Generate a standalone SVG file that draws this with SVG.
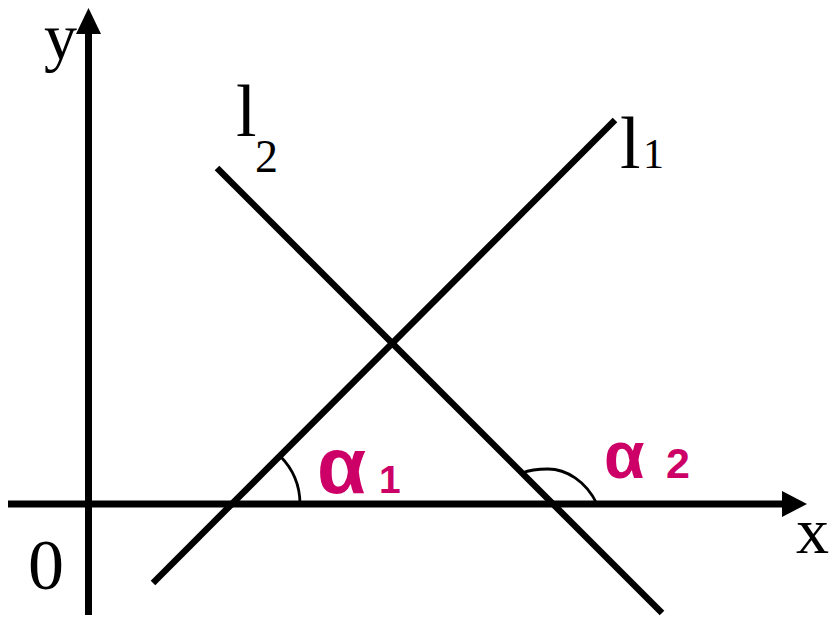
<svg xmlns="http://www.w3.org/2000/svg" width="831" height="618" viewBox="0 0 831 618">
<style>
.ax{stroke:#000;stroke-width:7;fill:none}
.ln{stroke:#000;stroke-width:6.5;fill:none}
.arc{stroke:#000;stroke-width:2.8;fill:none}
.lbl{font-family:"Liberation Serif","Times New Roman",serif;fill:#000}
.al{font-family:"Liberation Sans",Arial,sans-serif;font-weight:bold;fill:#CC0066}
</style>
<rect width="831" height="618" fill="#fff"/>
<g id="connectors">
<line class="ax" x1="8" y1="504" x2="786" y2="504"/>
<polygon points="807,504 782,491 782,517" fill="#000"/>
<line class="ax" x1="88.5" y1="615" x2="88.5" y2="30"/>
<polygon points="88.5,8 76,34 101,34" fill="#000"/>
<line class="ln" x1="153" y1="583" x2="615" y2="120"/>
<line class="ln" x1="217" y1="168" x2="662" y2="613"/>
<path class="arc" d="M300,504 A68,68 0 0 0 280,456"/>
<path class="arc" d="M597,504 C586,481 566,469 548,469 C535,469 527,471 522,473"/>
</g>
<g id="label-y"><text class="lbl" x="44" y="59" font-size="66">y</text></g>
<g id="label-l2"><text class="lbl" x="236" y="136" font-size="74">l</text><text class="lbl" x="255" y="172" font-size="46">2</text></g>
<g id="label-l1"><text class="lbl" x="620" y="168" font-size="74">l</text><text class="lbl" x="643" y="168" font-size="42">1</text></g>
<g id="label-0"><text class="lbl" x="28" y="589" font-size="72">0</text></g>
<g id="label-x"><text class="lbl" x="796" y="553" font-size="66">x</text></g>
<g id="label-a1"><text class="al" x="317" y="493" font-size="80">α</text><text class="al" x="379" y="493" font-size="39">1</text></g>
<g id="label-a2"><text class="al" x="604" y="478" font-size="66">α</text><text class="al" x="666" y="478" font-size="43">2</text></g>
</svg>
